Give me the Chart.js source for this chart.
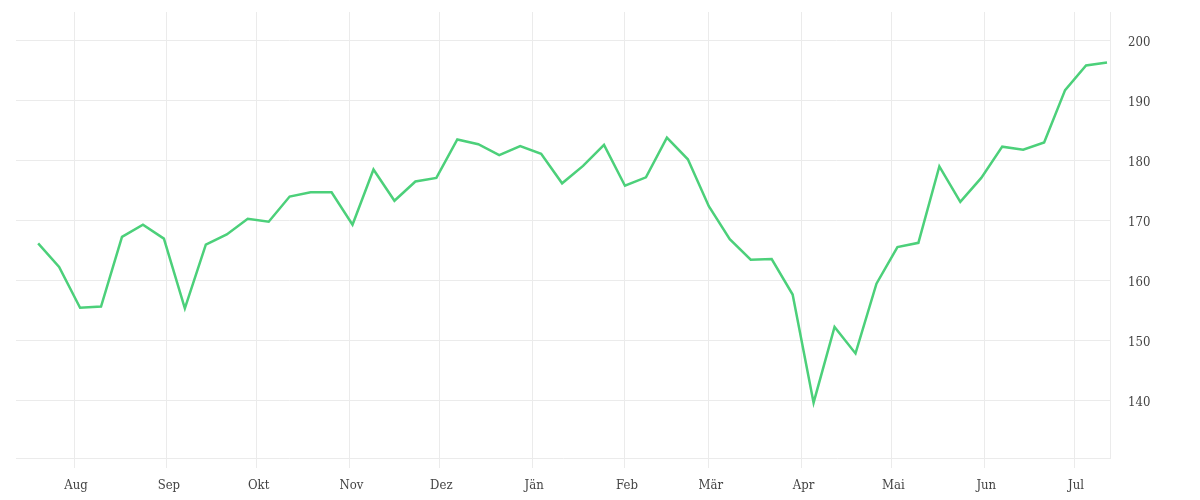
<!DOCTYPE html>
<html>
<head>
<meta charset="utf-8">
<script src="https://cdn.jsdelivr.net/npm/chart.js@4.4.1/dist/chart.umd.min.js"></script>
<style>
html,body{margin:0;padding:0;background:#fff;}
#wrap{width:1200px;height:500px;position:relative;}
</style>
</head>
<body>
<div id="wrap"><canvas id="c"></canvas></div>
<script>
// Weekly observation dates
const dates = [
 "2024-07-20","2024-07-27","2024-08-03","2024-08-10","2024-08-17","2024-08-24","2024-08-31",
 "2024-09-07","2024-09-14","2024-09-21","2024-09-28","2024-10-05","2024-10-12","2024-10-19",
 "2024-10-26","2024-11-02","2024-11-09","2024-11-16","2024-11-23","2024-11-30","2024-12-07",
 "2024-12-14","2024-12-21","2024-12-28","2025-01-04","2025-01-11","2025-01-18","2025-01-25",
 "2025-02-01","2025-02-08","2025-02-15","2025-02-22","2025-03-01","2025-03-08","2025-03-15",
 "2025-03-22","2025-03-29","2025-04-05","2025-04-12","2025-04-19","2025-04-26","2025-05-03",
 "2025-05-10","2025-05-17","2025-05-24","2025-05-31","2025-06-07","2025-06-14","2025-06-21",
 "2025-06-28","2025-07-05","2025-07-12"
];
// Series values
const values = [
 166.2,162.3,155.5,155.7,167.3,169.3,167.0,
 155.4,166.0,167.7,170.3,169.8,174.0,174.7,
 174.7,169.3,178.5,173.3,176.5,177.1,183.5,
 182.7,180.9,182.4,181.1,176.2,179.1,182.6,
 175.8,177.2,183.8,180.2,172.4,166.9,163.5,
 163.6,157.7,139.7,152.3,147.9,159.5,165.6,
 166.3,179.0,173.1,177.1,182.3,181.8,183.0,
 191.7,195.8,196.3
];
// X-axis tick labels (month starts)
const monthStarts = ["2024-08-01","2024-09-01","2024-10-01","2024-11-01","2024-12-01","2025-01-01",
 "2025-02-01","2025-03-01","2025-04-01","2025-05-01","2025-06-01","2025-07-01"];
const monthLabels = ["Aug","Sep","Okt","Nov","Dez","Jän","Feb","Mär","Apr","Mai","Jun","Jul"];
// Y-axis ticks
const yTicks = [140,150,160,170,180,190,200];

const DAY = 86400000;
const origin = Date.UTC(2024,7,1);
const toDay = s => { const p = s.split('-').map(Number); return (Date.UTC(p[0],p[1]-1,p[2]) - origin)/DAY; };
const points = dates.map((d,i)=>({x: toDay(d), y: values[i]}));
const monthPos = monthStarts.map(toDay);

const FONT = "'DejaVu Serif Condensed', 'DejaVu Serif', serif";
const grid = '#ebebeb';

new Chart(document.getElementById('c'), {
  type: 'line',
  data: { datasets: [{
    data: points,
    borderColor: 'rgb(76,208,122)',
    borderWidth: 2.5,
    pointRadius: 0,
    tension: 0,
    fill: false
  }]},
  options: {
    responsive: true,
    maintainAspectRatio: false,
    animation: false,
    layout: { padding: { left: 16, top: 12, right: 0, bottom: 0 } },
    plugins: { legend: { display: false }, tooltip: { enabled: false } },
    scales: {
      x: {
        type: 'linear',
        min: -19.4,
        max: 346,
        afterBuildTicks: s => { s.ticks = monthPos.map(v => ({value: v})); },
        afterFit: s => { s.height = 42; s.paddingLeft = 0; s.paddingRight = 0; },
        grid: { color: grid, lineWidth: 1, drawTicks: true, tickLength: 10, tickColor: grid },
        border: { display: true, color: grid },
        ticks: {
          autoSkip: false, maxRotation: 0, padding: 10, labelOffset: 2,
          color: '#444', font: { family: FONT, size: 13 },
          callback: (v, i) => monthLabels[i]
        }
      },
      y: {
        position: 'right',
        min: 130.5,
        max: 204.7,
        afterBuildTicks: s => { s.ticks = yTicks.map(v => ({value: v})); },
        afterFit: s => { s.width = 90; s.paddingTop = 0; s.paddingBottom = 0; },
        grid: { color: grid, lineWidth: 1, drawTicks: false },
        border: { display: true, color: grid },
        ticks: {
          padding: 18, labelOffset: 2, color: '#444', font: { family: FONT, size: 13 },
          callback: v => String(v)
        }
      }
    }
  }
});
</script>
</body>
</html>
